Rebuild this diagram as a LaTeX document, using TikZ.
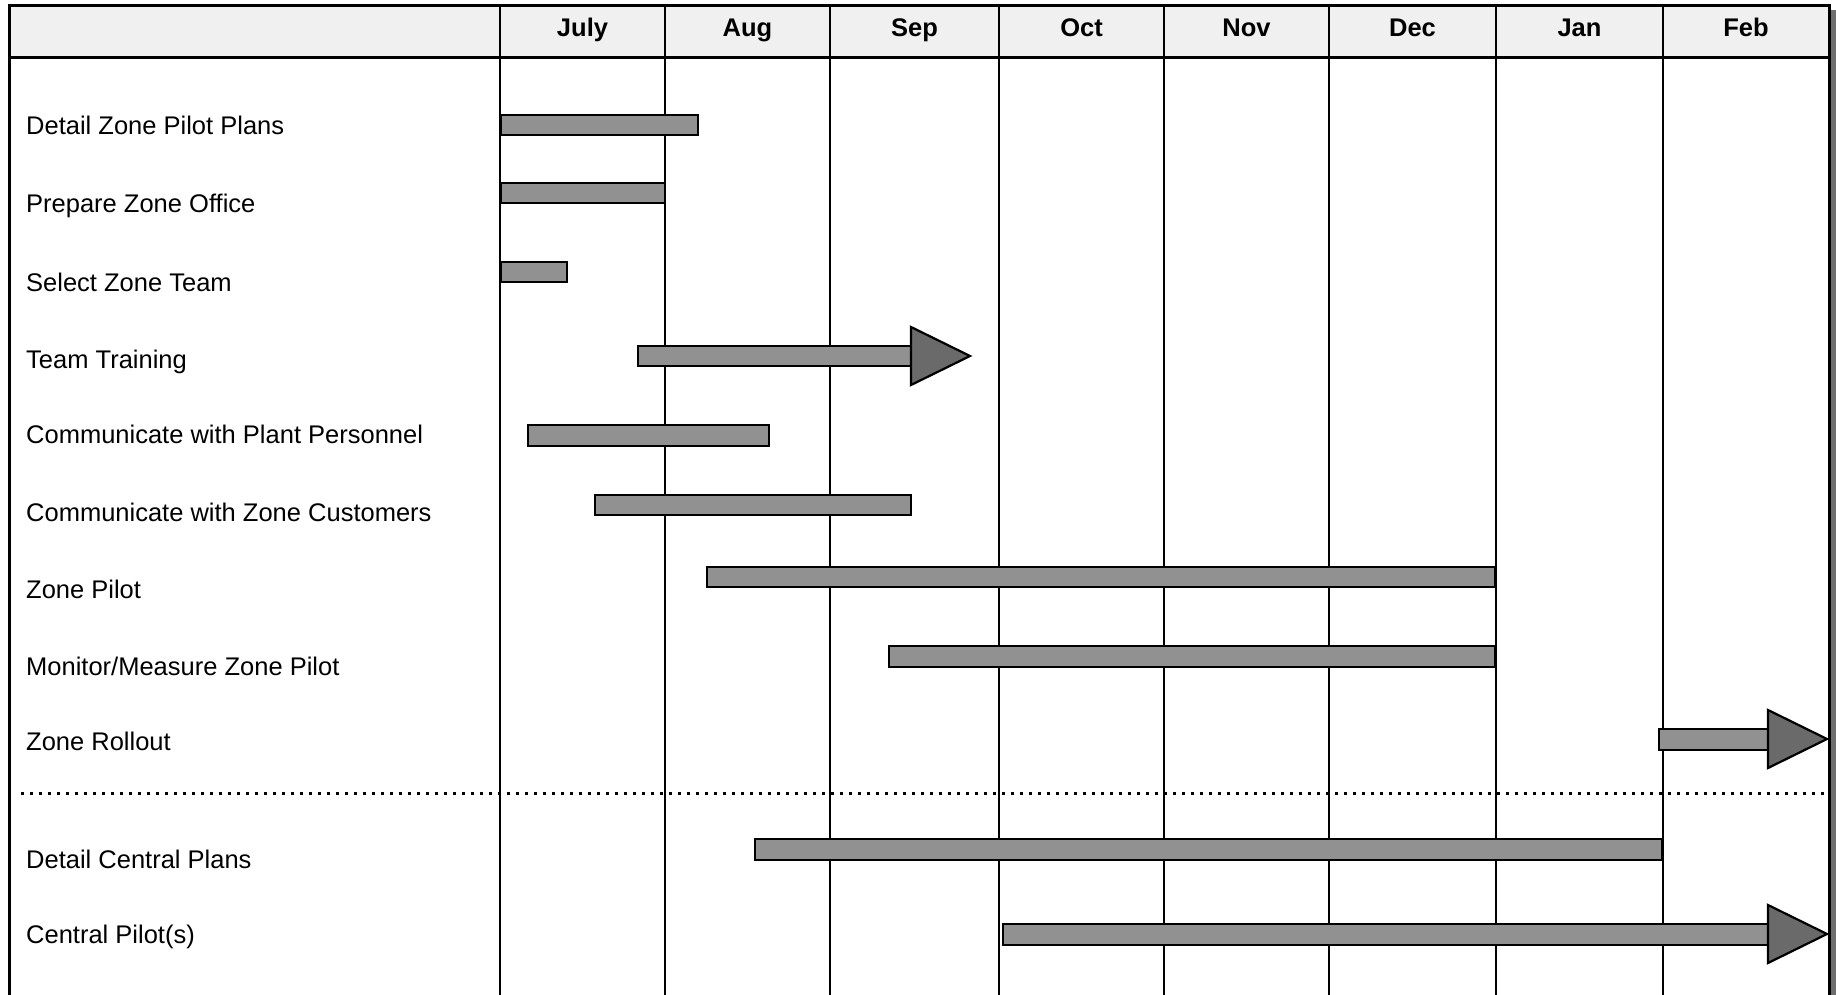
\documentclass[tikz,border=0pt]{standalone}
\usepackage{fontspec}
\setmainfont{Liberation Sans}
\definecolor{hdrc}{HTML}{F0F0F0}
\definecolor{barc}{HTML}{919191}
\definecolor{headc}{HTML}{6A6A6A}
\definecolor{shadc}{HTML}{6E6E6E}
\tikzset{
  ganttbar/.style={draw=black, line width=2.6pt, fill=barc},
  arrowhd/.style={draw=black, line width=2.2pt, fill=headc, line join=miter},
  gridline/.style={line width=2.4pt, draw=black},
  framel/.style={line width=3pt, draw=black},
  lbl/.style={anchor=base west, inner sep=0pt, font=\fontsize{25.5}{30}\selectfont},
  mon/.style={anchor=base, inner sep=0pt, font=\fontsize{25.5}{30}\selectfont\bfseries},
}
\begin{document}
\begin{tikzpicture}[x=1pt, y=-1pt]
\useasboundingbox (0,0) rectangle (1836,995);
% header
\fill[hdrc] (9,6) rectangle (1829,58);
\fill[shadc] (1830,10) rectangle (1836,995);
% grid lines
\foreach \gx in {500,665,830,999,1164,1329,1496,1663}{
  \draw[gridline] (\gx,6) -- (\gx,995);
}
\draw[framel] (9,995) -- (9,6) -- (1829,6) -- (1829,995);
\draw[framel] (9,58) -- (1829,58);
% month labels
\node[mon] (m1) at (582.5,37) {July};
\node[mon] (m2) at (747.5,37) {Aug};
\node[mon] (m3) at (914.5,37) {Sep};
\node[mon] (m4) at (1081.5,37) {Oct};
\node[mon] (m5) at (1246.5,37) {Nov};
\node[mon] (m6) at (1412.5,37) {Dec};
\node[mon] (m7) at (1579.5,37) {Jan};
\node[mon] (m8) at (1746,37) {Feb};
% task labels
\node[lbl] (t1) at (26,135) {Detail Zone Pilot Plans};
\node[lbl] (t2) at (26,213) {Prepare Zone Office};
\node[lbl] (t3) at (26,291) {Select Zone Team};
\node[lbl] (t4) at (26,368) {Team Training};
\node[lbl] (t5) at (26,443) {Communicate with Plant Personnel};
\node[lbl] (t6) at (26,521) {Communicate with Zone Customers};
\node[lbl] (t7) at (26,598) {Zone Pilot};
\node[lbl] (t8) at (26,675) {Monitor/Measure Zone Pilot};
\node[lbl] (t9) at (26,750) {Zone Rollout};
\node[lbl] (t10) at (26,868) {Detail Central Plans};
\node[lbl] (t11) at (26,943) {Central Pilot(s)};
% bars
\draw[ganttbar] (501,115) rectangle (698,135);
\draw[ganttbar] (501,183) rectangle (665,203);
\draw[ganttbar] (501,262) rectangle (567,282);
\draw[ganttbar] (638,346) rectangle (911,366);
\draw[arrowhd] (911,327) -- (970,356) -- (911,385) -- cycle;
\draw[ganttbar] (528,425) rectangle (769,446);
\draw[ganttbar] (595,495) rectangle (911,515);
\draw[ganttbar] (707,567) rectangle (1495,587);
\draw[ganttbar] (889,646) rectangle (1495,667);
\draw[ganttbar] (1659,729) rectangle (1768,750);
\draw[arrowhd] (1768,710) -- (1827,739) -- (1768,768) -- cycle;
% separator
\draw[line width=3pt, dash pattern=on 3pt off 6pt] (21,793) -- (1827,793);
\draw[ganttbar] (755,839) rectangle (1662,860);
\draw[ganttbar] (1003,924) rectangle (1768,945);
\draw[arrowhd] (1768,905) -- (1827,934) -- (1768,963) -- cycle;
\end{tikzpicture}
\end{document}
